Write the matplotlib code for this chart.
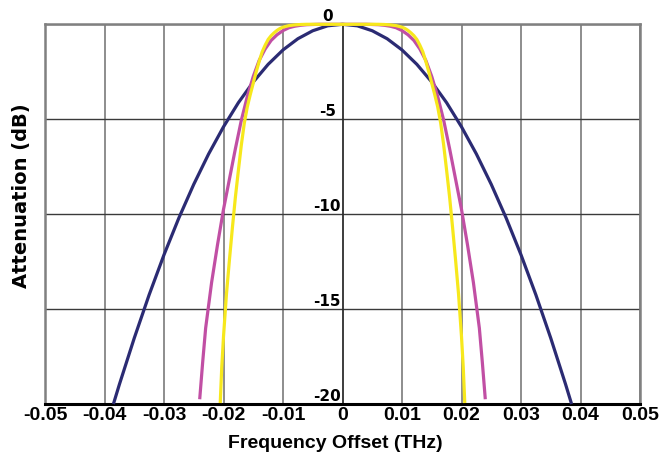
import numpy as np
import matplotlib
matplotlib.use("Agg")
import matplotlib.pyplot as plt

# half-profiles (filter is symmetric about 0)
navy_offset = [0.0, 0.0025, 0.005, 0.0075, 0.01, 0.0125, 0.015, 0.0175, 0.02,
               0.0225, 0.025, 0.0275, 0.03, 0.0325, 0.035, 0.0375, 0.0385]
navy_atten = [0.0, -0.08, -0.34, -0.76, -1.35, -2.11, -3.04, -4.13, -5.40,
              -6.83, -8.43, -10.2, -12.14, -14.25, -16.53, -18.97, -20.0]

magenta_offset = [0.0, 0.004, 0.006, 0.007, 0.008, 0.009, 0.010, 0.011, 0.012, 0.013,
                  0.014, 0.015, 0.016, 0.017, 0.018, 0.019, 0.020, 0.021, 0.022,
                  0.023, 0.0235, 0.024]
magenta_atten = [0.0, 0.0, -0.02, -0.05, -0.1, -0.18, -0.33, -0.55, -0.85, -1.3,
                 -1.9, -2.75, -3.8, -5.05, -6.55, -8.15, -9.75, -11.6, -13.6,
                 -16.0, -17.8, -19.75]

yellow_offset = [0.0, 0.006, 0.007, 0.008, 0.009, 0.010, 0.0105, 0.011, 0.0115, 0.012,
                 0.0125, 0.013, 0.0135, 0.014, 0.0145, 0.015, 0.0155, 0.016, 0.0165,
                 0.017, 0.0175, 0.018, 0.0185, 0.019, 0.0195, 0.020, 0.0203, 0.02055]
yellow_atten = [0.0, 0.0, -0.01, -0.03, -0.07, -0.15, -0.22, -0.32, -0.45, -0.6,
                -0.8, -1.1, -1.45, -1.95, -2.5, -3.1, -3.7, -4.35, -5.2,
                -6.35, -7.7, -9.1, -10.7, -12.4, -14.2, -16.45, -18.1, -19.95]

x_ticks = [-0.05, -0.04, -0.03, -0.02, -0.01, 0.0, 0.01, 0.02, 0.03, 0.04, 0.05]
x_labels = ["-0.05", "-0.04", "-0.03", "-0.02", "-0.01", "0",
            "0.01", "0.02", "0.03", "0.04", "0.05"]
y_ticks = [0, -5, -10, -15, -20]
y_labels = ["0", "-5", "-10", "-15", "-20"]

CURVES = [
    (navy_offset, navy_atten, "#2b2b73"),
    (magenta_offset, magenta_atten, "#c14fa4"),
    (yellow_offset, yellow_atten, "#f7e81c"),
]


def mirror(offset, atten):
    off = np.asarray(offset)
    att = np.asarray(atten)
    return np.concatenate([-off[::-1], off[1:]]), np.concatenate([att[::-1], att[1:]])


fig = plt.figure(figsize=(6.61, 4.53), dpi=100)
ax = fig.add_axes([45 / 661, 49 / 453, 595 / 661, 379.7 / 453])

ax.set_xlim(-0.05, 0.05)
ax.set_ylim(-20, 0)

# grid
ax.set_xticks(x_ticks)
ax.set_yticks(y_ticks)
ax.xaxis.grid(True, color="#7a7a7a", linewidth=1.2)
ax.yaxis.grid(True, color="#3a3a3a", linewidth=1.0)
ax.axvline(0, color="#2a2a2a", linewidth=1.1, zorder=1.5)
ax.set_axisbelow(True)

for side in ("top", "left", "right"):
    ax.spines[side].set_color("#808080")
    ax.spines[side].set_linewidth(1.8)
ax.spines["bottom"].set_color("black")
ax.spines["bottom"].set_linewidth(2.2)

ax.tick_params(axis="both", length=0)
ax.set_yticklabels([])
ax.set_xticklabels(x_labels, fontfamily=["Liberation Sans", "DejaVu Sans"],
                   fontweight="bold", fontsize=14)
ax.tick_params(axis="x", pad=2.5)

# curves
for offset, atten, color in CURVES:
    xs, ys = mirror(offset, atten)
    ax.plot(xs, ys, color=color, linewidth=2.3, solid_capstyle="butt",
            solid_joinstyle="round", clip_on=False, zorder=4)

# y labels sit inside the plot, just left of the zero line
for val, lab in zip(y_ticks, y_labels):
    ax.text(-0.00255, val + 0.17, lab, ha="center", va="baseline",
            fontsize=11, fontweight="bold", family="DejaVu Sans", zorder=5)

fig.text(335.5 / 661, 5 / 453, "Frequency Offset (THz)", ha="center", va="baseline",
         fontsize=14, fontweight="bold", family=["Liberation Sans", "DejaVu Sans"])
fig.text(22 / 661, (453 - 195.5) / 453, "Attenuation (dB)", ha="center", va="center",
         rotation=90, fontsize=14, fontweight="bold", family="DejaVu Sans")

fig.savefig("out.png", dpi=100)
